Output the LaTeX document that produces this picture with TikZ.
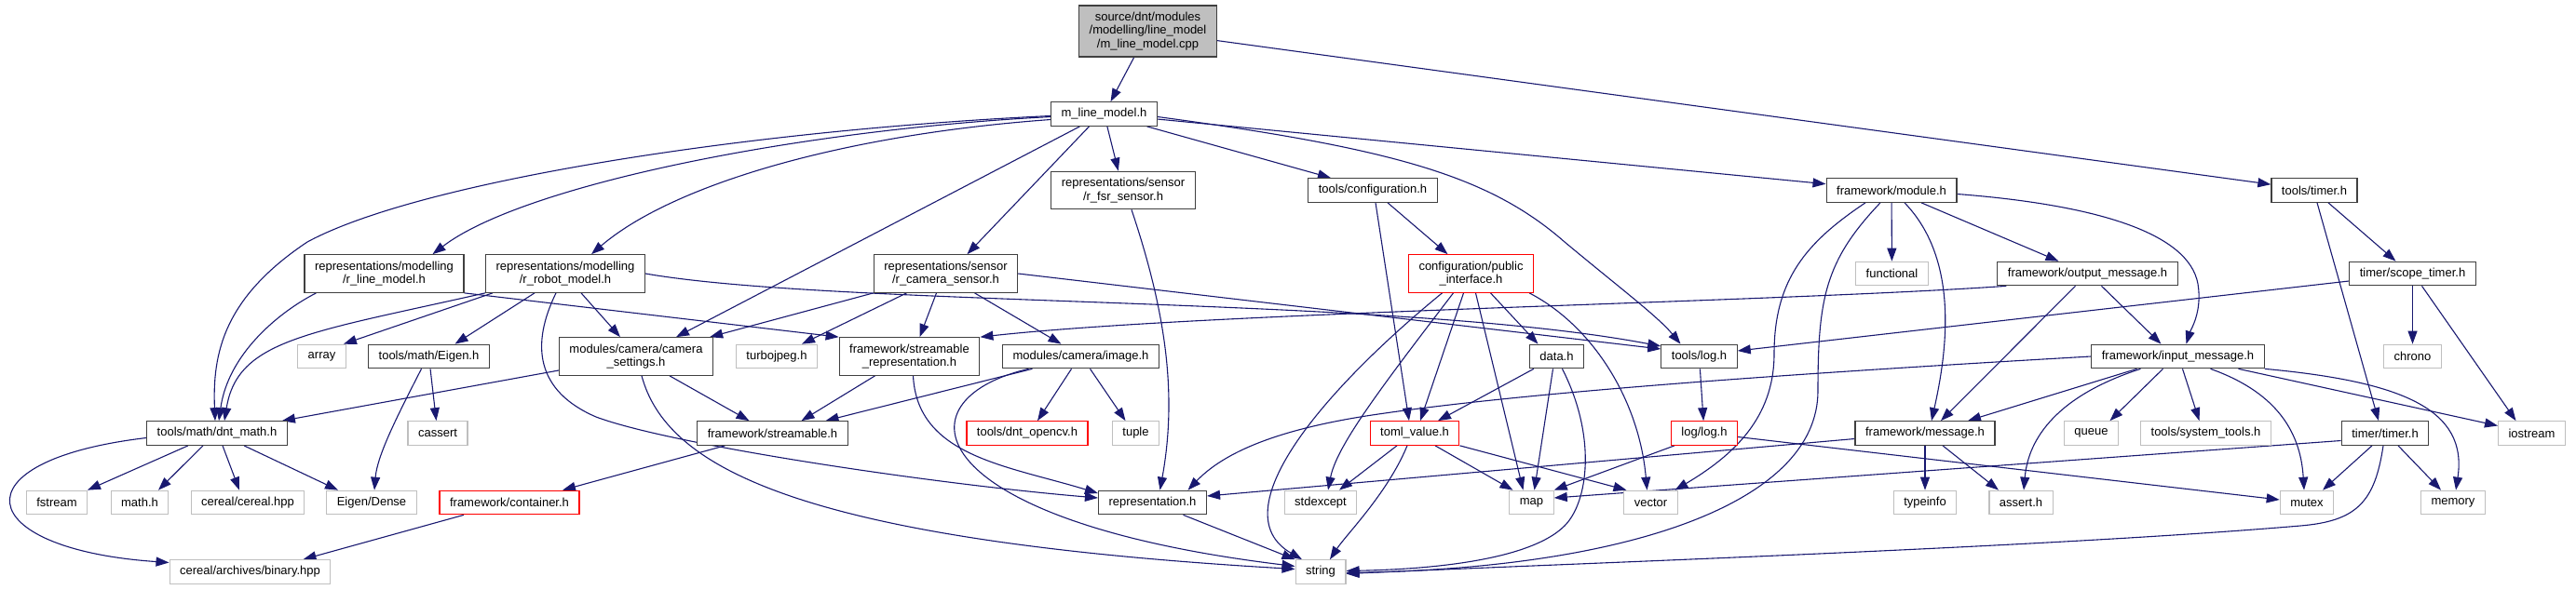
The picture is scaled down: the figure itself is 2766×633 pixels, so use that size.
\documentclass[tikz,border=0pt]{standalone}
\usepackage{fontspec}
\setmainfont{Liberation Sans}
\usepackage{tikz}
\usetikzlibrary{arrows.meta}
\definecolor{EdgeBlue}{HTML}{191970}
\definecolor{BoxGray}{HTML}{BFBFBF}
\definecolor{NodeLine}{HTML}{404040}
\definecolor{NodeRed}{HTML}{FF0000}
\pgfdeclarelayer{edges}
\pgfsetlayers{edges,main}

\begin{document}
\begin{tikzpicture}[
    x=1pt, y=-1pt, >={Triangle[length=14pt, width=10pt]},
    font=\fontsize{13}{14.5}\selectfont,
    hfile/.style={draw=NodeLine, line width=1.2pt, fill=white, align=center,
      inner xsep=11pt, inner ysep=2pt, minimum height=25.5pt},
    hfile2/.style={hfile, minimum height=40.5pt},
    sysfile/.style={hfile, draw=BoxGray},
    redfile/.style={hfile, draw=NodeRed},
    redfile2/.style={redfile, minimum height=40.5pt},
    rootfile/.style={hfile, fill=BoxGray, minimum height=55pt},
    inc/.style={->, draw=EdgeBlue, line width=1.1pt},
  ]
  \useasboundingbox (0,0) rectangle (2766,633);
  % 段の高さ
  \def\rA{204.5}\def\rB{294}\def\rC{383}\def\rD{465.5}\def\rE{540}\def\rF{614.5}
  % 最上段
  \node[rootfile] (src) at (1232.5,33.5) {source/dnt/modules\\/modelling/line\_model\\/m\_line\_model.cpp};
  \node[hfile] (mlm) at (1185.5,122.5) {m\_line\_model.h};
  % 第3段
  \node[hfile2] (rfsr) at (1206,\rA) {representations/sensor\\/r\_fsr\_sensor.h};
  \node[hfile] (conf) at (1474,\rA) {tools/configuration.h};
  \node[hfile] (module) at (2031,\rA) {framework/module.h};
  \node[hfile] (timer) at (2485,\rA) {tools/timer.h};
  % 第4段
  \node[hfile2] (rlm) at (412.5,\rB) {representations/modelling\\/r\_line\_model.h};
  \node[hfile2] (rrm) at (607,\rB) {representations/modelling\\/r\_robot\_model.h};
  \node[hfile2] (rcam) at (1015.5,\rB) {representations/sensor\\/r\_camera\_sensor.h};
  \node[redfile2] (pubif) at (1579.5,\rB) {configuration/public\\\_interface.h};
  \node[sysfile] (functional) at (2031.5,\rB) {functional};
  \node[hfile] (outmsg) at (2241.5,\rB) {framework/output\_message.h};
  \node[hfile] (scope) at (2590.5,\rB) {timer/scope\_timer.h};
  % 第5段
  \node[sysfile] (array) at (345.5,\rC) {array};
  \node[hfile] (eigen) at (460.5,\rC) {tools/math/Eigen.h};
  \node[hfile2] (camset) at (683,\rC) {modules/camera/camera\\\_settings.h};
  \node[sysfile] (turbo) at (834,\rC) {turbojpeg.h};
  \node[hfile2] (strrep) at (976.5,\rC) {framework/streamable\\\_representation.h};
  \node[hfile] (image) at (1160.5,\rC) {modules/camera/image.h};
  \node[hfile] (data) at (1671.5,\rC) {data.h};
  \node[hfile] (log) at (1824.5,\rC) {tools/log.h};
  \node[hfile] (inmsg) at (2338.5,\rC) {framework/input\_message.h};
  \node[sysfile] (chrono) at (2590.5,\rC) {chrono};
  % 第6段
  \node[hfile] (dmath) at (233,\rD) {tools/math/dnt\_math.h};
  \node[sysfile] (cassert) at (470,\rD) {cassert};
  \node[hfile] (stream) at (829.5,\rD) {framework/streamable.h};
  \node[redfile] (opencv) at (1103,\rD) {tools/dnt\_opencv.h};
  \node[sysfile] (tuple) at (1219.5,\rD) {tuple};
  \node[redfile] (toml) at (1519,\rD) {toml\_value.h};
  \node[redfile] (loglog) at (1830,\rD) {log/log.h};
  \node[hfile] (msg) at (2067,\rD) {framework/message.h};
  \node[sysfile] (queue) at (2245.5,\rD) {queue};
  \node[sysfile] (systools) at (2368.5,\rD) {tools/system\_tools.h};
  \node[hfile] (ttimer) at (2561,\rD) {timer/timer.h};
  \node[sysfile] (iostream) at (2718.5,\rD) {iostream};
  % 第7段
  \node[sysfile] (fstream) at (61,\rE) {fstream};
  \node[sysfile] (mathh) at (150,\rE) {math.h};
  \node[sysfile] (cereal) at (266,\rE) {cereal/cereal.hpp};
  \node[sysfile] (dense) at (399,\rE) {Eigen/Dense};
  \node[redfile] (container) at (547,\rE) {framework/container.h};
  \node[hfile] (repr) at (1237.5,\rE) {representation.h};
  \node[sysfile] (stdexcept) at (1418,\rE) {stdexcept};
  \node[sysfile] (map) at (1644.5,\rE) {map};
  \node[sysfile] (vector) at (1772.5,\rE) {vector};
  \node[sysfile] (typeinfo) at (2067,\rE) {typeinfo};
  \node[sysfile] (asserth) at (2170,\rE) {assert.h};
  \node[sysfile] (mutex) at (2477,\rE) {mutex};
  \node[sysfile] (memory) at (2634,\rE) {memory};
  % 最下段
  \node[sysfile] (binary) at (268.5,\rF) {cereal/archives/binary.hpp};
  \node[sysfile] (string) at (1418,\rF) {string};

  \begin{pgfonlayer}{edges}
  % m_line_model.cpp
  \draw[inc] (src) -- (mlm);
  \draw[inc] (src) -- (timer);
  % m_line_model.h
  \draw[inc] ([yshift=-2pt]mlm.west) .. controls (800,140) and (450,195) .. (330,260) .. controls (240,320) and (228,380) .. ([xshift=-2pt]dmath.north);
  \draw[inc] ([yshift=-3pt]mlm.west) .. controls (850,140) and (560,200) .. ([xshift=52pt]rlm.north);
  \draw[inc] ([yshift=-6pt]mlm.west) .. controls (900,145) and (720,200) .. ([xshift=28pt]rrm.north);
  \draw[inc] ([xshift=-26pt]mlm.south) -- ([xshift=43pt]camset.north);
  \draw[inc] ([xshift=-16pt]mlm.south) -- ([xshift=23pt]rcam.north);
  \draw[inc] (mlm) -- (rfsr);
  \draw[inc] ([xshift=46pt]mlm.south) -- ([xshift=-45pt]conf.north);
  \draw[inc] ([yshift=-3pt]mlm.east) .. controls (1500,160) and (1600,190) .. (1680,260) .. controls (1740,310) and (1780,340) .. ([xshift=-20pt]log.north);
  \draw[inc] (mlm) -- (module);
  % representations
  \draw[inc] ([xshift=-73pt]rlm.south) .. controls (300,335) and (245,380) .. ([xshift=2pt]dmath.north);
  \draw[inc] (rlm.south east) -- (strrep.north west);
  \draw[inc] (rrm.south west) .. controls (330,358) and (255,365) .. ([xshift=8pt]dmath.north);
  \draw[inc] ([xshift=8pt]rrm.south west) -- ([xshift=-3pt]array.north east);
  \draw[inc] ([xshift=-33pt]rrm.south) -- ([xshift=28pt]eigen.north);
  \draw[inc] ([xshift=17pt]rrm.south) -- ([xshift=-17pt]camset.north);
  \draw[inc] ([xshift=-10pt]rrm.south) .. controls (570,370) and (575,420) .. (640,448) .. controls (720,478) and (1000,520) .. ([yshift=5pt]repr.west);
  \draw[inc] (rrm.east) .. controls (900,330) and (1500,318) .. ([yshift=11pt]log.west);
  \draw[inc] (rcam.south west) -- ([xshift=-4pt]camset.north east);
  \draw[inc] ([xshift=-42pt]rcam.south) -- ([xshift=27pt]turbo.north);
  \draw[inc] ([xshift=-10pt]rcam.south) -- ([xshift=11pt]strrep.north);
  \draw[inc] ([xshift=31pt]rcam.south) -- ([xshift=-21pt]image.north);
  \draw[inc] (rcam.east) -- ([yshift=8pt]log.west);
  \draw[inc] ([xshift=9pt]rfsr.south) .. controls (1250,330) and (1265,420) .. ([xshift=8pt]repr.north);
  % configuration
  \draw[inc] ([xshift=16pt]conf.south) -- ([xshift=-25pt]pubif.north);
  \draw[inc] ([xshift=3pt]conf.south) -- ([xshift=-6pt]toml.north);
  \draw[inc] ([xshift=-31pt]pubif.south) .. controls (1420,420) and (1310,550) .. ([xshift=-20pt]string.north);
  \draw[inc] ([xshift=-19pt]pubif.south) .. controls (1480,420) and (1435,480) .. ([xshift=8pt]stdexcept.north);
  \draw[inc] ([xshift=-8pt]pubif.south) -- ([xshift=6pt]toml.north);
  \draw[inc] ([xshift=5pt]pubif.south) -- ([xshift=-9pt]map.north);
  \draw[inc] ([xshift=21pt]pubif.south) -- ([xshift=-20pt]data.north);
  \draw[inc] ([xshift=-5pt]pubif.south east) .. controls (1710,350) and (1760,430) .. ([xshift=-4pt]vector.north);
  \draw[inc] ([xshift=5pt]data.south west) -- ([xshift=25pt]toml.north);
  \draw[inc] ([xshift=-4pt]data.south) -- ([xshift=3pt]map.north);
  \draw[inc] ([xshift=6pt]data.south) .. controls (1715,470) and (1705,540) .. (1680,565) .. controls (1640,605) and (1520,612) .. ([yshift=1pt]string.east);
  \draw[inc] ([xshift=-19pt]toml.south) -- ([xshift=20pt]stdexcept.north);
  \draw[inc] ([xshift=-8pt]toml.south) .. controls (1490,530) and (1445,575) .. ([xshift=10pt]string.north);
  \draw[inc] ([xshift=22pt]toml.south) -- ([xshift=-20pt]map.north);
  \draw[inc] (toml.south east) -- ([xshift=-26pt]vector.north);
  % log
  \draw[inc] (log) -- (loglog);
  \draw[inc] ([xshift=-32pt]loglog.south) -- (map.north east);
  \draw[inc] ([yshift=-4pt]loglog.east) -- ([yshift=3pt]mutex.west);
  % framework
  \draw[inc] ([xshift=-28pt]module.south) .. controls (1940,260) and (1905,300) .. (1905,380) .. controls (1905,450) and (1860,490) .. ([xshift=26pt]vector.north);
  \draw[inc] ([xshift=-12pt]module.south) .. controls (1960,280) and (1952,320) .. (1952,420) .. controls (1952,540) and (1750,610) .. ([yshift=-1pt]string.east);
  \draw[inc] (module) -- (functional);
  \draw[inc] ([xshift=14pt]module.south) .. controls (2105,280) and (2090,380) .. ([xshift=7pt]msg.north);
  \draw[inc] ([xshift=32pt]module.south) -- ([xshift=-31pt]outmsg.north);
  \draw[inc] ([yshift=-4pt]module.east) .. controls (2250,220) and (2350,250) .. (2360,305) .. controls (2365,335) and (2352,355) .. ([xshift=9pt]inmsg.north);
  \draw[inc] ([xshift=10pt]outmsg.south west) .. controls (1900,325) and (1300,335) .. (strrep.north east);
  \draw[inc] ([xshift=-13pt]outmsg.south) -- ([xshift=17pt]msg.north);
  \draw[inc] ([xshift=15pt]outmsg.south) -- ([xshift=-18pt]inmsg.north);
  \draw[inc] (inmsg.west) .. controls (1950,400) and (1650,420) .. (1480,445) .. controls (1390,458) and (1320,480) .. ([xshift=38pt]repr.north);
  \draw[inc] ([xshift=-44pt]inmsg.south) -- ([xshift=46pt]msg.north);
  \draw[inc] ([xshift=-40pt]inmsg.south) .. controls (2210,425) and (2178,470) .. ([xshift=3pt]asserth.north);
  \draw[inc] ([xshift=-16pt]inmsg.south) -- ([xshift=20pt]queue.north);
  \draw[inc] ([xshift=5pt]inmsg.south) -- ([xshift=-7pt]systools.north);
  \draw[inc] ([xshift=35pt]inmsg.south) .. controls (2440,420) and (2470,460) .. ([xshift=-3pt]mutex.north);
  \draw[inc] ([xshift=65pt]inmsg.south) -- ([yshift=8pt]iostream.west);
  \draw[inc] (inmsg.south east) .. controls (2580,410) and (2650,440) .. ([xshift=3pt]memory.north);
  \draw[inc] ([yshift=-6pt]msg.west) -- ([yshift=7pt]repr.east);
  \draw[inc] (msg) -- (typeinfo);
  \draw[inc] ([xshift=19pt]msg.south) -- ([xshift=-24pt]asserth.north);
  % timer
  \draw[inc] ([xshift=15pt]timer.south) -- ([xshift=-18pt]scope.north);
  \draw[inc] ([xshift=3pt]timer.south) -- ([xshift=-7pt]ttimer.north);
  \draw[inc] ([yshift=-8pt]scope.west) -- ([yshift=6pt]log.east);
  \draw[inc] (scope) -- (chrono);
  \draw[inc] ([xshift=10pt]scope.south) -- ([xshift=-17pt]iostream.north);
  \draw[inc] ([yshift=-8pt]ttimer.west) -- ([yshift=5pt]map.east);
  \draw[inc] ([xshift=-14pt]ttimer.south) -- ([xshift=17pt]mutex.north);
  \draw[inc] ([xshift=14pt]ttimer.south) -- ([xshift=-13pt]memory.north);
  \draw[inc] ([xshift=-2pt]ttimer.south) .. controls (2550,540) and (2530,560) .. (2470,565) .. controls (2200,588) and (1700,605) .. ([yshift=-2pt]string.east);
  % camera / streamable
  \draw[inc] ([yshift=-15pt]camset.west) -- ([xshift=-6pt]dmath.north east);
  \draw[inc] ([xshift=36pt]camset.south) -- ([xshift=-25pt]stream.north);
  \draw[inc] ([xshift=6pt]camset.south) .. controls (715,500) and (850,580) .. ([yshift=3pt]string.west);
  \draw[inc] ([xshift=-37pt]strrep.south) -- ([xshift=31pt]stream.north);
  \draw[inc] ([xshift=4pt]strrep.south) .. controls (985,490) and (1080,500) .. ([yshift=10pt]repr.west);
  \draw[inc] ([xshift=-52pt]image.south) -- ([xshift=57pt]stream.north);
  \draw[inc] ([xshift=-56pt]image.south) .. controls (960,430) and (990,560) .. ([yshift=6pt]string.west);
  \draw[inc] ([xshift=-10pt]image.south) -- ([xshift=11pt]opencv.north);
  \draw[inc] ([xshift=10pt]image.south) -- ([xshift=-11pt]tuple.north);
  \draw[inc] ([xshift=-51pt]stream.south) -- ([xshift=57pt]container.north);
  \draw[inc] ([xshift=33pt]repr.south) -- (string.north west);
  % math
  \draw[inc] ([xshift=-31pt]dmath.south) -- ([xshift=33pt]fstream.north);
  \draw[inc] ([xshift=-15pt]dmath.south) -- ([xshift=20pt]mathh.north);
  \draw[inc] ([xshift=6pt]dmath.south) -- ([xshift=-9pt]cereal.north);
  \draw[inc] ([xshift=29pt]dmath.south) -- ([xshift=-36pt]dense.north);
  \draw[inc] ([yshift=-5pt]dmath.west) .. controls (-50,495) and (-30,590) .. ([yshift=10pt]binary.west);
  \draw[inc] ([xshift=-8pt]eigen.south) .. controls (425,450) and (405,490) .. ([xshift=3pt]dense.north);
  \draw[inc] (eigen) -- (cassert);
  \draw[inc] ([xshift=-49pt]container.south) -- ([xshift=57pt]binary.north);
  \end{pgfonlayer}
\end{tikzpicture}
\end{document}
